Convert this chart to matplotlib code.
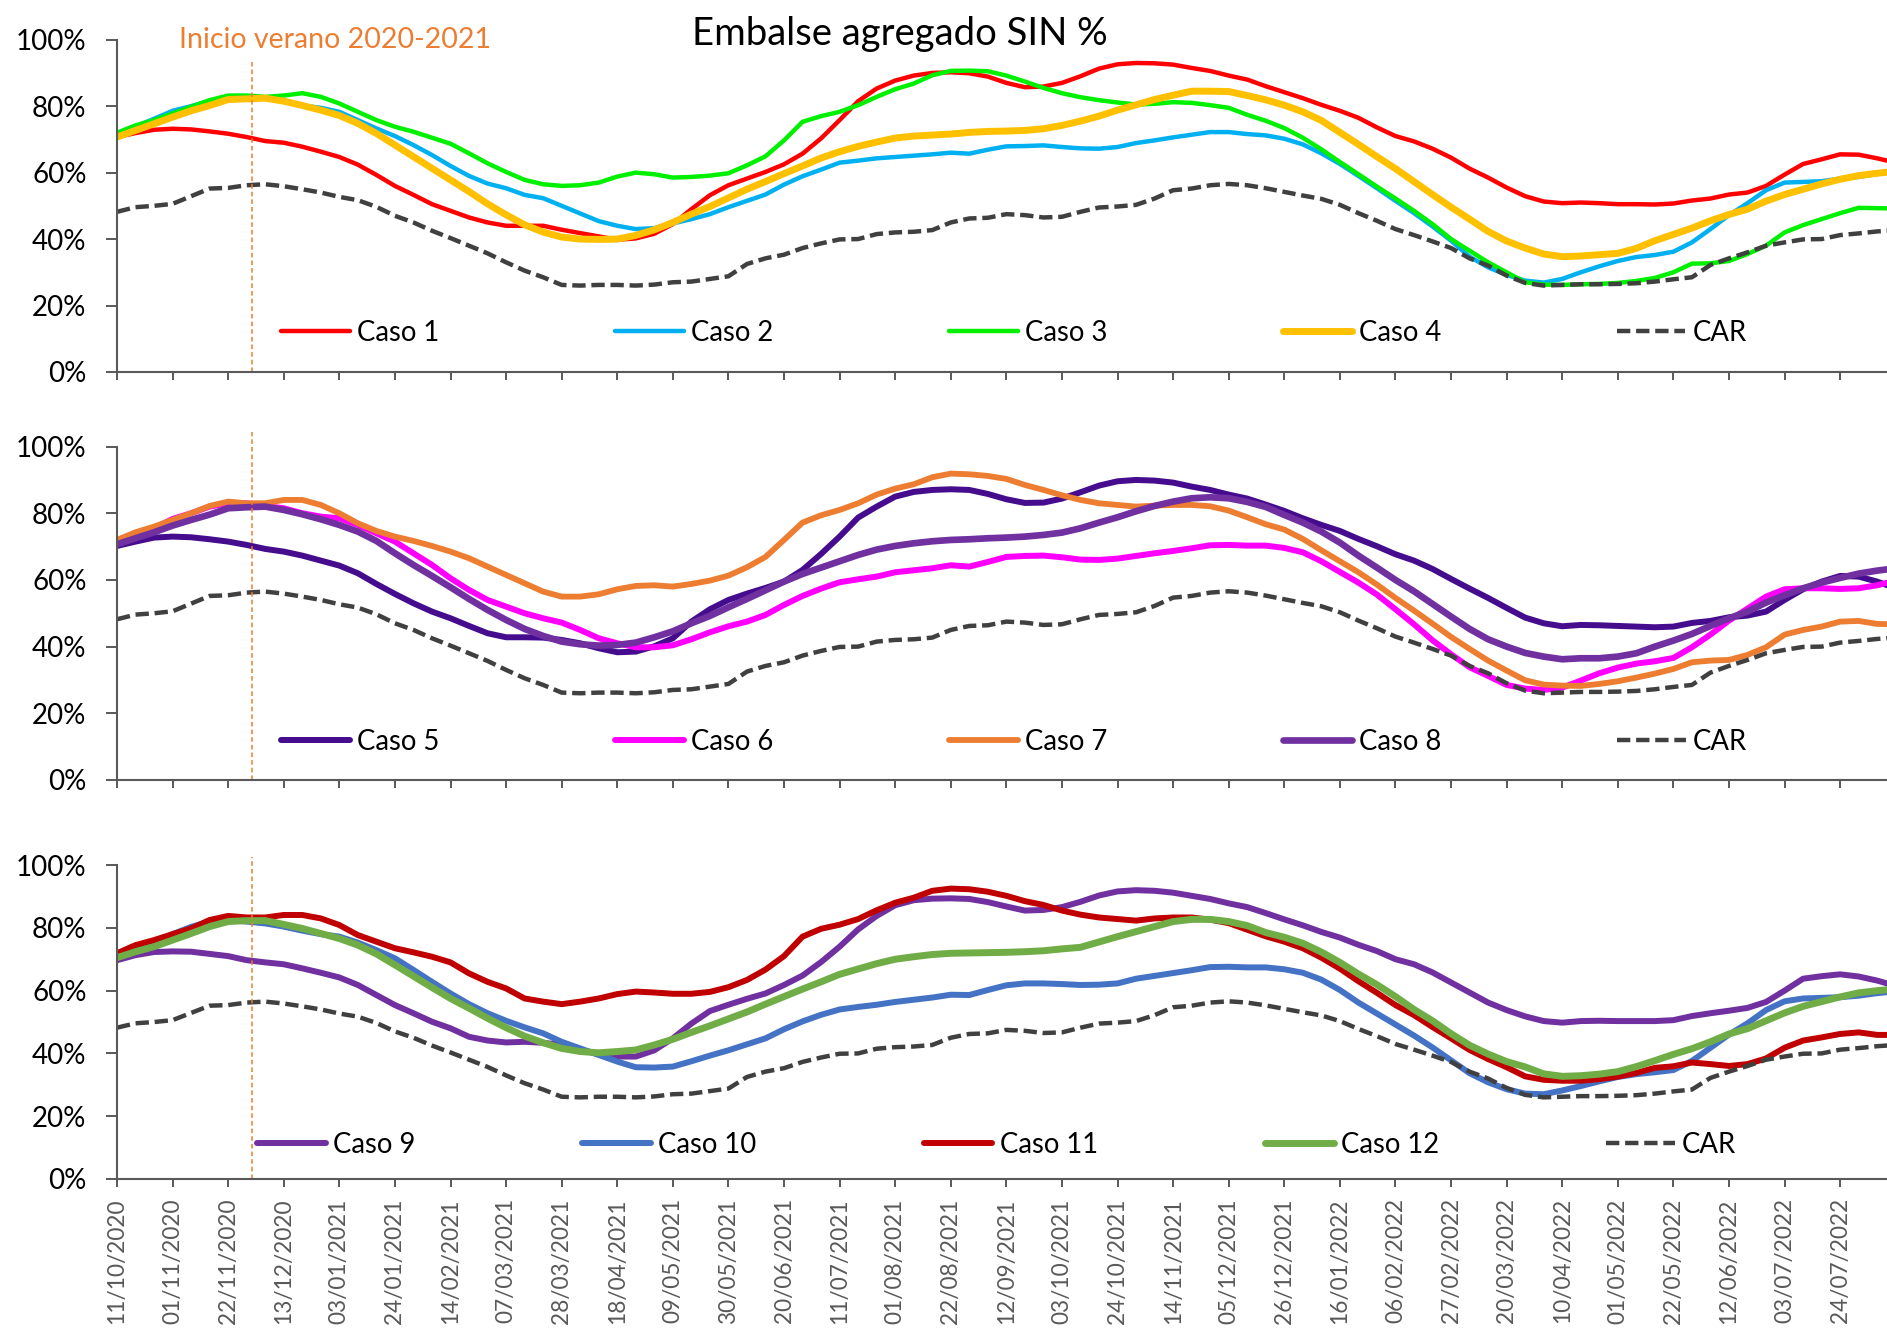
import pandas as pd
import matplotlib
matplotlib.use("Agg")
import matplotlib.pyplot as plt
import matplotlib.dates as mdates
from matplotlib.ticker import PercentFormatter

plt.rcParams["font.family"] = ["Lato", "DejaVu Sans"]

# Weekly dates of the reservoir series (11/10/2020 ... 14/08/2022)
fechas = pd.date_range("2020-10-11", periods=97, freq="7D")
tick_fechas = pd.date_range("2020-10-11", "2022-07-24", freq="21D")
inicio_verano = pd.Timestamp("2020-12-01")

car = [48.2, 49.6, 50.0, 50.6, 52.9, 55.2, 55.4, 56.2, 56.5, 55.9,
       55.0, 54.0, 52.7, 51.7, 49.7, 47.0, 45.0, 42.5, 40.3, 38.0,
       35.7, 33.0, 30.5, 28.5, 26.2, 26.0, 26.2, 26.2, 26.0, 26.3,
       27.0, 27.2, 28.0, 28.8, 32.5, 34.2, 35.3, 37.3, 38.7, 39.9,
       40.0, 41.5, 42.0, 42.2, 42.7, 45.0, 46.2, 46.4, 47.5, 47.2,
       46.5, 46.7, 48.2, 49.5, 49.8, 50.3, 52.2, 54.7, 55.2, 56.2,
       56.6, 56.2, 55.3, 54.2, 53.1, 52.1, 50.3, 47.8, 45.5, 43.0,
       41.2, 39.3, 37.3, 34.2, 32.0, 29.0, 26.8, 26.0, 26.2, 26.4,
       26.4, 26.5, 26.7, 27.2, 27.9, 28.5, 32.2, 34.2, 36.0, 38.0,
       39.0, 39.9, 40.0, 41.2, 41.7, 42.3, 42.7]

caso1 = [70.7, 71.9, 72.9, 73.2, 73.0, 72.4, 71.7, 70.7, 69.5, 69.0,
         67.8, 66.3, 64.7, 62.4, 59.3, 56.0, 53.3, 50.5, 48.5, 46.5,
         45.0, 44.0, 44.0, 44.0, 42.8, 41.8, 40.8, 39.8, 40.2, 41.6,
         44.5, 49.0, 53.2, 56.2, 58.2, 60.2, 62.5, 65.7, 70.3, 75.8,
         81.5, 85.3, 87.7, 89.2, 90.0, 90.2, 89.9, 88.9, 87.0, 85.7,
         85.9, 87.0, 89.0, 91.3, 92.6, 93.0, 92.9, 92.5, 91.5, 90.6,
         89.2, 88.0, 86.0, 84.2, 82.4, 80.4, 78.6, 76.5, 73.6, 71.0,
         69.4, 67.2, 64.5, 61.2, 58.5, 55.5, 52.9, 51.3, 50.8, 51.0,
         50.8, 50.5, 50.5, 50.4, 50.7, 51.6, 52.2, 53.4, 54.0, 56.0,
         59.4, 62.6, 64.0, 65.5, 65.4, 64.3, 63.0]

caso2 = [71.7, 73.9, 76.2, 78.6, 80.0, 81.6, 82.5, 82.3, 82.5, 81.8,
         80.2, 79.5, 78.3, 75.8, 73.3, 71.0, 68.3, 65.3, 62.0, 59.0,
         56.7, 55.3, 53.3, 52.3, 50.0, 47.7, 45.4, 44.0, 43.0, 43.3,
         44.7, 46.0, 47.5, 49.6, 51.5, 53.4, 56.4, 58.9, 60.9, 63.0,
         63.6, 64.3, 64.7, 65.1, 65.5, 66.0, 65.7, 66.9, 67.9, 68.0,
         68.2, 67.7, 67.3, 67.2, 67.7, 68.9, 69.7, 70.6, 71.4, 72.2,
         72.2, 71.6, 71.2, 70.2, 68.5, 65.8, 62.6, 59.0, 55.3, 51.5,
         47.8, 43.8, 39.5, 34.7, 31.5, 29.2, 27.5, 26.9, 28.0, 30.0,
         31.8, 33.4, 34.6, 35.2, 36.2, 39.0, 43.0, 47.2, 50.8, 54.7,
         57.0, 57.2, 57.4, 58.2, 58.7, 59.6, 60.3]

caso3 = [72.0, 74.2, 75.8, 77.8, 79.8, 81.8, 83.2, 83.2, 82.8, 83.2,
         83.9, 82.8, 80.8, 78.3, 75.8, 73.8, 72.3, 70.5, 68.7, 65.8,
         62.8, 60.2, 57.8, 56.5, 56.0, 56.2, 57.0, 58.8, 60.0, 59.5,
         58.5, 58.7, 59.1, 59.8, 62.2, 64.9, 69.7, 75.3, 77.0, 78.3,
         80.3, 82.8, 85.1, 86.8, 89.3, 90.6, 90.7, 90.5, 89.2, 87.4,
         85.5, 83.9, 82.7, 81.8, 81.1, 80.5, 80.7, 81.2, 81.0, 80.3,
         79.5, 77.4, 75.6, 73.4, 70.5, 67.0, 63.2, 59.5, 55.8, 52.2,
         48.5, 44.5, 40.0, 36.5, 33.0, 30.0, 27.0, 26.3, 26.2, 26.4,
         26.5, 26.8, 27.4, 28.3, 30.0, 32.6, 32.7, 33.4, 35.5, 38.0,
         42.0, 44.2, 46.0, 47.8, 49.4, 49.3, 49.2]

caso4 = [70.7, 72.7, 74.7, 76.7, 78.6, 80.2, 82.0, 82.2, 82.4, 81.5,
         80.2, 78.8, 77.2, 74.8, 71.8, 68.3, 64.8, 61.3, 57.8, 54.3,
         50.6, 47.3, 44.3, 42.1, 40.6, 40.0, 39.9, 40.0, 41.1, 42.8,
         45.0, 47.5, 49.8, 52.4, 55.0, 57.3, 59.7, 62.0, 64.4, 66.3,
         67.9, 69.2, 70.4, 71.0, 71.3, 71.6, 72.1, 72.4, 72.5, 72.7,
         73.2, 74.2, 75.5, 77.0, 78.8, 80.4, 82.0, 83.3, 84.5, 84.5,
         84.4, 83.2, 81.9, 80.3, 78.3, 75.7, 72.1, 68.5, 64.8, 61.2,
         57.3, 53.4, 49.6, 46.0, 42.3, 39.4, 37.3, 35.5, 34.7, 34.9,
         35.3, 35.7, 37.2, 39.5, 41.4, 43.3, 45.5, 47.4, 49.0, 51.4,
         53.4, 55.0, 56.6, 58.0, 59.1, 59.8, 60.4]

caso5 = [70.2, 71.5, 72.7, 73.0, 72.8, 72.2, 71.5, 70.5, 69.3, 68.5,
         67.3, 65.8, 64.3, 62.0, 58.8, 55.8, 53.0, 50.5, 48.5, 46.2,
         44.0, 42.8, 42.8, 42.7, 42.0, 41.0, 39.5, 38.3, 38.5, 40.1,
         42.5, 47.5, 51.2, 54.0, 55.9, 57.6, 59.5, 63.0, 67.8, 73.0,
         78.7, 82.0, 85.0, 86.4, 87.0, 87.2, 87.0, 85.8, 84.2, 83.1,
         83.2, 84.4, 86.3, 88.3, 89.6, 90.0, 89.8, 89.2, 88.0, 87.0,
         85.6, 84.4, 82.6, 80.7, 78.5, 76.5, 74.7, 72.3, 70.1, 67.7,
         65.8, 63.3, 60.3, 57.4, 54.6, 51.6, 48.7, 47.0, 46.1, 46.5,
         46.4, 46.2, 46.0, 45.8, 46.0, 47.1, 47.7, 48.8, 49.3, 50.5,
         54.0, 57.2, 59.5, 61.2, 61.0, 59.5, 57.5]

caso6 = [71.5, 73.5, 75.5, 78.3, 80.0, 82.0, 83.0, 83.0, 82.2, 81.5,
         80.0, 79.0, 78.5, 76.5, 74.0, 71.5, 68.0, 64.5, 60.5, 57.0,
         54.0, 52.0, 50.0, 48.5, 47.2, 45.0, 42.5, 41.0, 39.8, 39.8,
         40.4, 42.2, 44.3, 46.1, 47.5, 49.5, 52.5, 55.2, 57.4, 59.3,
         60.2, 61.0, 62.3, 62.9, 63.5, 64.4, 64.0, 65.4, 66.9, 67.2,
         67.3, 66.8, 66.1, 66.0, 66.4, 67.2, 68.0, 68.7, 69.5, 70.4,
         70.5, 70.3, 70.3, 69.6, 68.3, 65.6, 62.4, 59.2, 55.6, 51.2,
         46.7, 41.9, 37.7, 33.8, 31.2, 28.5, 27.4, 27.0, 27.7, 29.8,
         32.0, 33.7, 34.9, 35.6, 36.6, 39.8, 43.6, 47.8, 51.4, 55.0,
         57.2, 57.5, 57.5, 57.3, 57.5, 58.4, 59.8]

caso7 = [72.0, 74.3, 76.0, 78.0, 80.0, 82.2, 83.5, 83.0, 83.0, 84.0,
         84.0, 82.5, 80.0, 77.0, 74.7, 73.0, 71.7, 70.2, 68.5, 66.5,
         64.0, 61.5, 59.0, 56.5, 55.0, 55.0, 55.7, 57.2, 58.2, 58.4,
         58.0, 58.8, 59.8, 61.3, 63.8, 66.9, 72.0, 77.2, 79.4, 81.0,
         83.0, 85.6, 87.4, 88.7, 90.8, 91.9, 91.7, 91.2, 90.3, 88.5,
         87.0, 85.4, 84.0, 83.0, 82.5, 82.0, 82.3, 82.5, 82.5, 82.1,
         80.8, 78.8, 76.7, 75.1, 72.3, 68.9, 65.6, 62.3, 58.6, 54.6,
         50.8, 46.9, 42.9, 39.3, 35.8, 32.8, 29.9, 28.6, 28.3, 28.2,
         28.8, 29.6, 30.7, 31.9, 33.3, 35.3, 35.8, 36.0, 37.5, 39.8,
         43.6, 45.0, 46.0, 47.5, 47.7, 46.8, 46.7]

caso8 = [70.7, 72.5, 74.3, 76.3, 78.0, 79.6, 81.5, 81.8, 82.0, 81.0,
         79.7, 78.2, 76.5, 74.5, 71.7, 68.0, 64.5, 61.2, 57.8, 54.3,
         51.0, 48.0, 45.3, 43.2, 41.5, 40.7, 40.3, 40.5, 41.2, 42.8,
         44.6, 47.0, 49.2, 51.8, 54.3, 56.9, 59.5, 61.8, 63.7, 65.6,
         67.5, 69.1, 70.2, 71.0, 71.6, 72.0, 72.2, 72.5, 72.7, 73.0,
         73.5, 74.2, 75.5, 77.2, 78.8, 80.6, 82.2, 83.5, 84.5, 84.8,
         84.5, 83.4, 81.9, 79.5, 77.2, 74.5, 71.2, 67.3, 63.7, 60.0,
         56.6, 52.8, 49.0, 45.3, 42.2, 40.0, 38.1, 37.0, 36.2, 36.5,
         36.5, 37.0, 38.0, 40.0, 41.8, 43.8, 46.2, 48.5, 50.5, 53.2,
         55.4, 57.5, 59.2, 60.6, 61.9, 62.8, 63.5]

caso9 = [69.7, 71.3, 72.3, 72.5, 72.4, 71.7, 71.0, 69.7, 69.0, 68.4,
         67.1, 65.7, 64.2, 61.8, 58.6, 55.4, 52.8, 50.1, 48.0, 45.3,
         44.1, 43.5, 43.7, 43.4, 42.7, 41.1, 39.8, 39.0, 39.0, 41.0,
         44.8, 49.5, 53.5, 55.5, 57.4, 59.1, 61.8, 64.8, 69.1, 74.0,
         79.5, 83.8, 87.2, 88.8, 89.3, 89.4, 89.2, 88.2, 86.8, 85.5,
         85.7, 86.6, 88.3, 90.3, 91.6, 92.0, 91.8, 91.2, 90.2, 89.2,
         87.8, 86.6, 84.7, 82.7, 80.8, 78.7, 76.9, 74.6, 72.6, 70.0,
         68.4, 65.8, 62.6, 59.4, 56.2, 53.8, 51.8, 50.3, 49.8, 50.3,
         50.4, 50.3, 50.3, 50.3, 50.6, 51.9, 52.8, 53.6, 54.5, 56.4,
         60.0, 63.8, 64.6, 65.2, 64.5, 63.2, 61.5]

caso10 = [70.5, 72.9, 75.0, 78.0, 80.3, 82.0, 82.5, 82.0, 81.4, 80.4,
          79.1, 78.0, 77.2, 75.3, 72.9, 70.3, 66.6, 62.8, 59.1, 55.7,
          52.8, 50.4, 48.3, 46.4, 43.7, 41.6, 39.5, 37.4, 35.6, 35.5,
          35.8, 37.5, 39.3, 41.0, 42.9, 44.8, 47.7, 50.2, 52.3, 54.0,
          54.8, 55.5, 56.4, 57.1, 57.8, 58.7, 58.6, 60.2, 61.7, 62.3,
          62.3, 62.1, 61.8, 61.9, 62.3, 63.8, 64.7, 65.6, 66.5, 67.5,
          67.6, 67.4, 67.4, 66.8, 65.7, 63.5, 60.2, 56.2, 52.7, 49.2,
          45.7, 41.9, 37.8, 33.7, 30.8, 28.6, 27.2, 27.0, 28.2, 29.6,
          31.1, 32.5, 33.4, 34.0, 34.7, 37.6, 41.8, 46.0, 49.6, 53.8,
          56.6, 57.5, 57.7, 57.9, 58.4, 59.2, 59.8]

caso11 = [71.9, 74.5, 76.1, 78.0, 79.8, 82.5, 83.8, 83.3, 83.3, 84.1,
          84.1, 83.0, 80.9, 77.7, 75.6, 73.5, 72.2, 70.8, 69.0, 65.5,
          62.8, 60.7, 57.5, 56.5, 55.7, 56.5, 57.5, 58.9, 59.7, 59.4,
          59.0, 59.0, 59.6, 61.1, 63.4, 66.7, 71.0, 77.2, 79.7, 81.0,
          82.8, 85.6, 88.0, 89.6, 91.8, 92.5, 92.3, 91.5, 90.2, 88.5,
          87.3, 85.5, 84.2, 83.3, 82.8, 82.3, 83.0, 83.3, 83.3, 82.6,
          81.5, 79.4, 77.3, 75.6, 73.5, 70.5, 67.0, 63.0, 59.3, 55.4,
          52.2, 48.4, 44.8, 41.1, 38.2, 35.6, 32.7, 31.6, 31.3, 31.3,
          31.8, 32.6, 33.8, 35.4, 35.9, 37.1, 36.6, 36.0, 36.6, 38.4,
          41.8, 44.1, 45.1, 46.2, 46.7, 45.9, 45.9]

caso12 = [70.5, 72.4, 74.0, 76.1, 78.2, 80.4, 82.0, 82.3, 82.3, 81.1,
          79.8, 78.2, 76.6, 74.5, 71.7, 68.2, 64.6, 61.0, 57.5, 54.4,
          51.2, 48.2, 45.5, 43.4, 41.6, 40.6, 40.2, 40.6, 41.1, 42.7,
          44.5, 46.7, 48.8, 51.0, 53.2, 55.7, 58.1, 60.5, 62.8, 65.2,
          66.9, 68.6, 70.0, 70.8, 71.5, 71.9, 72.0, 72.1, 72.2, 72.4,
          72.7, 73.3, 73.8, 75.5, 77.2, 78.8, 80.4, 82.0, 82.7, 82.7,
          82.0, 80.7, 78.5, 77.0, 75.1, 72.3, 69.0, 65.3, 61.9, 58.1,
          54.0, 50.4, 46.3, 42.6, 39.8, 37.4, 35.7, 33.5, 32.7, 32.9,
          33.4, 34.2, 35.8, 37.7, 39.7, 41.5, 43.7, 46.2, 47.9, 50.4,
          52.9, 55.0, 56.5, 58.0, 59.3, 60.0, 60.5]

paneles = [
    {"series": [("Caso 1", caso1, "#FF0000", 3.2),
                ("Caso 2", caso2, "#00B0F0", 3.2),
                ("Caso 3", caso3, "#00F000", 3.2),
                ("Caso 4", caso4, "#FFC000", 5.0)],
     "rect": [0.062, 0.7199, 0.938, 0.2502],
     "leg": (0.0927, 0.117), "colsp": 6.39, "vtop": 0.932},
    {"series": [("Caso 5", caso5, "#450C8E", 4.3),
                ("Caso 6", caso6, "#FF00FF", 4.3),
                ("Caso 7", caso7, "#ED7D31", 4.2),
                ("Caso 8", caso8, "#7030A0", 4.8)],
     "rect": [0.062, 0.4127, 0.938, 0.2510],
     "leg": (0.0927, 0.114), "colsp": 6.39, "vtop": 1.044},
    {"series": [("Caso 9", caso9, "#7030A0", 4.3),
                ("Caso 10", caso10, "#4472C4", 4.3),
                ("Caso 11", caso11, "#C00000", 4.3),
                ("Caso 12", caso12, "#70AD47", 5.0)],
     "rect": [0.062, 0.1122, 0.938, 0.2364],
     "leg": (0.079, 0.108), "colsp": 6.08, "vtop": 1.025},
]

eje_color = "#595959"
x0 = mdates.date2num(pd.Timestamp("2020-10-11"))
x1 = x0 + 668.7

fig = plt.figure(figsize=(18.87, 13.28), dpi=100)

for i, p in enumerate(paneles):
    ax = fig.add_axes(p["rect"])
    for nombre, vals, color, lw in p["series"]:
        ax.plot(fechas, vals, color=color, lw=lw, label=nombre,
                solid_joinstyle="round", solid_capstyle="round")
    ax.plot(fechas, car, color="#404040", lw=3.2, ls=(0, (3, 1.3)),
            label="CAR")
    ax.axvline(inicio_verano, ymin=0, ymax=p["vtop"], color="#ED7D31",
               lw=1.1, ls=(0, (3, 2)), clip_on=False)

    ax.set_xlim(x0, x1)
    ax.set_ylim(0, 100)
    ax.set_yticks([0, 20, 40, 60, 80, 100])
    ax.yaxis.set_major_formatter(PercentFormatter(xmax=100, decimals=0))
    ax.set_xticks(mdates.date2num(tick_fechas))
    ax.xaxis.set_major_formatter(mdates.DateFormatter("%d/%m/%Y"))

    for s in ("top", "right"):
        ax.spines[s].set_visible(False)
    for s in ("left", "bottom"):
        ax.spines[s].set_color(eje_color)
        ax.spines[s].set_linewidth(1.5)

    ax.tick_params(axis="y", direction="out", length=7.9, width=1.4,
                   color=eje_color, labelsize=20, pad=14, labelcolor="black")
    ax.tick_params(axis="x", direction="out", length=5.8, width=1.4,
                   color=eje_color, labelsize=16.3, pad=8,
                   labelcolor=eje_color, labelrotation=90,
                   labelbottom=(i == 2))

    ax.legend(ncol=5, loc="center left", bbox_to_anchor=p["leg"],
              frameon=False, fontsize=19.8, handlelength=2.5,
              handletextpad=0.26, columnspacing=p["colsp"], borderpad=0,
              borderaxespad=0)

fig.text(0.477, 0.9661, "Embalse agregado SIN %", ha="center",
         va="baseline", fontsize=27.5)
fig.text(0.0949, 0.9639, "Inicio verano 2020-2021", ha="left",
         va="baseline", fontsize=20.5, color="#ED7D31")

fig.savefig("out.png", dpi=100)
